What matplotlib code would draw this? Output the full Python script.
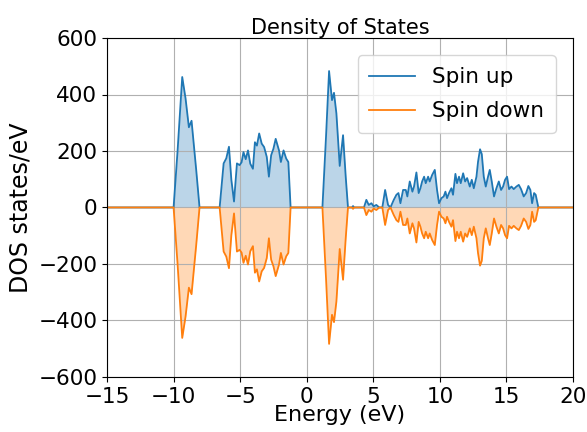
import numpy as np
import matplotlib.pyplot as plt

# energies (eV) and spin-up DOS (states/eV)
energy = [-15.0, -10.0, -9.7, -9.35, -9.1, -8.85, -8.65, -8.3, -8.05,
          -6.54, -6.24, -6.04, -5.84, -5.66, -5.46, -5.24, -5.04, -4.89, -4.75,
          -4.58, -4.41, -4.24, -4.04, -3.89, -3.74, -3.57, -3.38, -3.2, -3.0,
          -2.84, -2.67, -2.5, -2.33, -2.08, -1.94, -1.74, -1.54, -1.38, -1.21,
          1.18, 1.45, 1.68, 1.9, 2.05, 2.23, 2.48, 2.73, 2.93, 3.1,
          3.4, 3.48, 3.56, 4.3, 4.48, 4.66, 4.86, 5.03, 5.23, 5.45,
          5.68, 5.89, 6.11, 6.29, 6.54, 6.74, 6.89, 7.04, 7.24, 7.44,
          7.56, 7.74, 7.94, 8.06, 8.24, 8.41, 8.54, 8.67, 8.82, 8.94,
          9.12, 9.24, 9.42, 9.62, 9.79, 9.94, 10.12, 10.29, 10.42, 10.54,
          10.69, 10.87, 10.99, 11.17, 11.29, 11.44, 11.57, 11.75, 11.9, 12.05,
          12.25, 12.4, 12.55, 12.75, 12.87, 13.02, 13.15, 13.3, 13.45, 13.62,
          13.75, 13.9, 14.07, 14.25, 14.43, 14.6, 14.75, 14.9, 15.05, 15.2,
          15.38, 15.55, 15.75, 15.93, 16.1, 16.3, 16.48, 16.65, 16.8, 16.93,
          17.08, 17.2, 17.4, 20.0]
dos_up = [0, 0, 200, 462, 386, 284, 307, 133, 0,
          0, 156, 174, 215, 98, 21, 156, 150, 160, 196,
          171, 202, 155, 137, 231, 219, 262, 226, 214, 179,
          109, 185, 208, 243, 202, 161, 202, 173, 161, 0,
          0, 250, 483, 380, 406, 333, 147, 256, 109, 0,
          0, 5, 0, 0, 27, 9, 15, 4, 9, 0,
          0, 62, 9, 0, 27, 45, 51, 15, 62, 62,
          39, 92, 56, 74, 124, 51, 68, 92, 109, 86,
          109, 92, 115, 133, 62, 15, 33, 39, 56, 33,
          51, 68, 45, 119, 86, 109, 86, 121, 92, 104,
          74, 98, 68, 109, 162, 206, 189, 109, 74, 109,
          133, 92, 39, 68, 92, 62, 74, 98, 109, 65,
          74, 65, 74, 80, 65, 39, 51, 76, 62, 15,
          51, 45, 0, 0]
dos_down = [-v for v in dos_up]

fig = plt.figure(figsize=(5.87, 4.32), dpi=100)
ax = fig.add_axes([0.1823, 0.1275, 0.7938, 0.7845])

ax.plot(energy, dos_up, color='C0', lw=1.3, label='Spin up')
ax.fill_between(energy, dos_up, 0, color='C0', alpha=0.3, lw=0)
ax.plot(energy, dos_down, color='C1', lw=1.3, label='Spin down')
ax.fill_between(energy, dos_down, 0, color='C1', alpha=0.3, lw=0)

ax.set_xlim(-15, 20)
ax.set_ylim(-600, 600)
ax.set_xticks(np.arange(-15, 21, 5))
ax.set_yticks(np.arange(-600, 601, 200))
ax.tick_params(labelsize=15.5)
ax.grid(True, color='#b0b0b0', lw=0.8)
# the reference crops the bottom of this label; keep it whole here
ax.set_xlabel('Energy (eV)', fontsize=16, labelpad=-1)
ax.set_ylabel('DOS states/eV', fontsize=17)
ax.set_title('Density of States', fontsize=15, pad=3)
ax.legend(fontsize=15.5, loc='upper right', labelspacing=0.65,
          borderpad=0.55, borderaxespad=0.8, handlelength=2.1)

fig.savefig('out.png', dpi=100)
